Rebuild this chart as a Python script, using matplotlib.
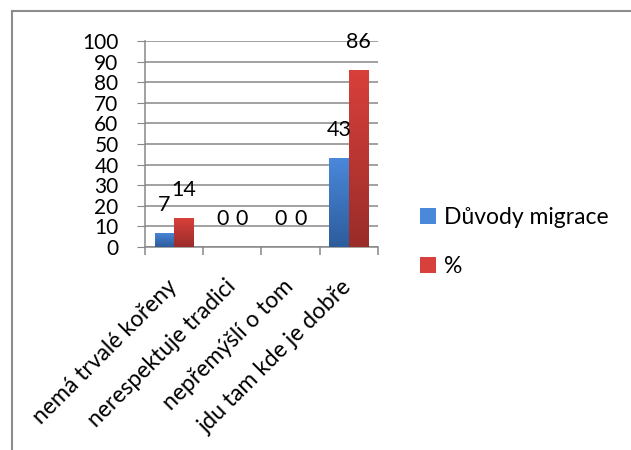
import matplotlib.pyplot as plt
import numpy as np
from matplotlib.colors import LinearSegmentedColormap
from matplotlib.patches import Patch
from matplotlib.lines import Line2D

plt.rcParams['font.family'] = ['Lato', 'DejaVu Sans']

# data
categories = ['nemá trvalé kořeny', 'nerespektuje tradici', 'nepřemýšlí o tom', 'jdu tam kde je dobře']
duvody = [7, 0, 0, 43]
procenta = [14, 0, 0, 86]
series_names = ['Důvody migrace', '%']

blue_top, blue_bot = '#4a88da', '#2d5c9c'
red_top, red_bot = '#d8403b', '#9a2c29'
grid_col = '#878787'

fig = plt.figure(figsize=(6.31, 4.5), dpi=100)
ax = fig.add_axes([0.2298, 0.451, 0.369, 0.458])

x = np.arange(len(categories))
w = 1 / 3
b1 = ax.bar(x - w / 2, duvody, w, color=blue_top, zorder=3)
b2 = ax.bar(x + w / 2, procenta, w, color=red_top, zorder=3)


def gradient(bars, top, bottom):
    cmap = LinearSegmentedColormap.from_list('g', [top, bottom])
    grad = np.linspace(0, 1, 100).reshape(-1, 1)
    for b in bars:
        h = b.get_height()
        if h == 0:
            continue
        x0, y0, bw = b.get_x(), b.get_y(), b.get_width()
        im = ax.imshow(grad, extent=(x0, x0 + bw, y0, y0 + h), origin='upper',
                       cmap=cmap, aspect='auto', zorder=3.5)
        im.set_clip_path(b)


gradient(b1, blue_top, blue_bot)
gradient(b2, red_top, red_bot)

# data labels
for bars, vals in ((b1, duvody), (b2, procenta)):
    for b, v in zip(bars, vals):
        ax.annotate(str(v), (b.get_x() + b.get_width() / 2, v), xytext=(0, 13),
                    textcoords='offset points', ha='center', va='bottom',
                    fontsize=15.5, zorder=5)

ax.set_xlim(-0.5, len(categories) - 0.5)
ax.set_ylim(0, 100)
ax.set_yticks(np.arange(0, 101, 10))
ax.yaxis.grid(True, color=grid_col, lw=1.1, zorder=0)
ax.set_axisbelow(True)
ax.tick_params(axis='y', labelsize=15, length=6, color=grid_col, pad=13)

ax.set_xticks(x)
ax.set_xticklabels(categories, rotation=45, ha='right', va='center',
                   rotation_mode='anchor', fontsize=16.5)
ax.tick_params(axis='x', length=0, pad=26)
ax.set_xticks(np.arange(-0.5, len(categories), 1), minor=True)
ax.tick_params(axis='x', which='minor', length=6, color=grid_col, width=1.1)

for s in ('top', 'right'):
    ax.spines[s].set_visible(False)
for s in ('left', 'bottom'):
    ax.spines[s].set_color(grid_col)
    ax.spines[s].set_linewidth(1.1)

handles = [Patch(facecolor=blue_top, edgecolor='none'),
           Patch(facecolor=red_top, edgecolor='none')]
fig.legend(handles, series_names, loc='upper left', bbox_to_anchor=(0.647, 0.565),
           frameon=False, fontsize=16.5, handlelength=0.7, handleheight=0.7,
           handletextpad=0.35, labelspacing=1.2, borderpad=0)

# outer chart frame
fig.add_artist(Line2D([0.019, 0.019], [0, 0.976], color='#8c8c8c', lw=1.5))
fig.add_artist(Line2D([0.019, 1.0], [0.976, 0.976], color='#8c8c8c', lw=1.5))

fig.savefig('out.png', dpi=100)
